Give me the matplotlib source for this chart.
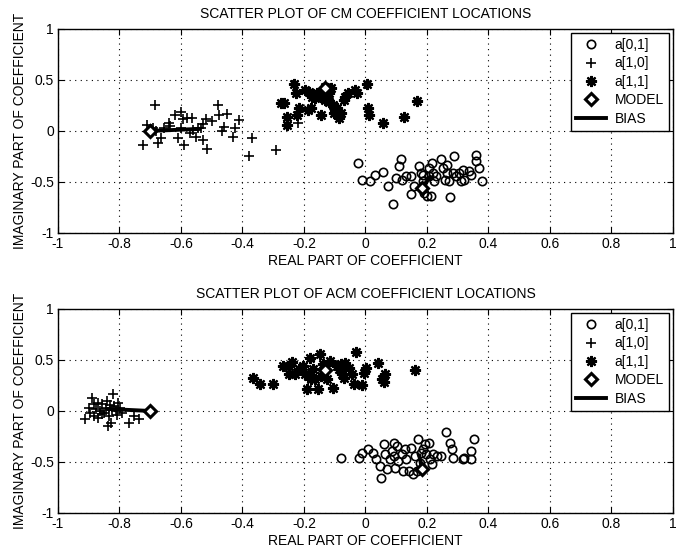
import matplotlib.pyplot as plt
import numpy as np

plt.rcParams['font.family'] = ['Liberation Sans', 'DejaVu Sans']

# ---- CM panel (top) ----
cm_a01_re = [-0.025, -0.012, 0.015, 0.032, 0.058, 0.074, 0.091, 0.100, 0.110, 0.117, 0.118, 0.133,
             0.147, 0.149, 0.157, 0.173, 0.180, 0.186, 0.190, 0.199, 0.206, 0.208, 0.213, 0.215,
             0.219, 0.223, 0.246, 0.252, 0.259, 0.266, 0.266, 0.272, 0.276, 0.285, 0.289, 0.295,
             0.305, 0.318, 0.322, 0.338, 0.344, 0.358, 0.361, 0.369, 0.378, 0.312, 0.186, 0.229]
cm_a01_im = [-0.315, -0.477, -0.494, -0.429, -0.406, -0.542, -0.721, -0.461, -0.347, -0.276, -0.477, -0.445,
             -0.445, -0.623, -0.542, -0.347, -0.412, -0.494, -0.607, -0.640, -0.364, -0.445, -0.640, -0.315,
             -0.412, -0.494, -0.276, -0.364, -0.477, -0.412, -0.331, -0.494, -0.649, -0.412, -0.250, -0.445,
             -0.412, -0.380, -0.477, -0.396, -0.429, -0.234, -0.299, -0.364, -0.494, -0.494, -0.429, -0.438]

cm_a10_re = [-0.685, -0.725, -0.71, -0.675, -0.665, -0.655, -0.64, -0.62, -0.61, -0.595, -0.59, -0.58,
             -0.57, -0.56, -0.55, -0.535, -0.53, -0.52, -0.53, -0.515, -0.48, -0.475, -0.45, -0.46,
             -0.465, -0.43, -0.425, -0.41, -0.37, -0.38, -0.29, -0.22, -0.60, -0.635, -0.565, -0.68,
             -0.69, -0.50, -0.545, -0.60]
cm_a10_im = [0.25, -0.14, 0.06, -0.12, -0.07, 0.03, 0.08, 0.16, -0.07, 0.12, -0.14, 0.13,
             -0.02, 0.01, -0.06, 0.03, 0.07, 0.12, -0.09, -0.18, 0.25, 0.16, 0.17, 0.04,
             0.0, -0.06, 0.03, 0.11, -0.07, -0.25, -0.19, 0.08, 0.19, 0.05, 0.13, 0.0,
             0.03, 0.10, 0.03, 0.03]

cm_a11_re = [-0.232, -0.226, -0.276, -0.266, -0.256, -0.256, -0.223, -0.216, -0.197, -0.186, -0.177, -0.173,
             -0.157, -0.144, -0.131, -0.131, -0.118, -0.107, -0.102, -0.091, -0.085, -0.071, -0.065, -0.058,
             -0.034, -0.028, 0.005, 0.008, 0.012, 0.058, 0.124, 0.166, -0.164, -0.144, -0.118, -0.098,
             -0.078, -0.184, -0.111]
cm_a11_im = [0.464, 0.373, 0.269, 0.269, 0.140, 0.058, 0.156, 0.221, 0.400, 0.205, 0.221, 0.334,
             0.367, 0.156, 0.432, 0.302, 0.367, 0.253, 0.172, 0.221, 0.123, 0.302, 0.334, 0.367,
             0.406, 0.367, 0.464, 0.221, 0.156, 0.081, 0.133, 0.295, 0.318, 0.334, 0.286, 0.205,
             0.172, 0.383, 0.416]

cm_model_re = [0.184, -0.70, -0.13]
cm_model_im = [-0.558, 0.0, 0.42]
cm_mean_re = [0.21, -0.54, -0.11]
cm_mean_im = [-0.45, 0.02, 0.31]

# ---- ACM panel (bottom) ----
acm_a01_re = [-0.078, -0.022, -0.012, 0.008, 0.025, 0.034, 0.048, 0.052, 0.061, 0.065, 0.070, 0.081,
              0.087, 0.094, 0.096, 0.104, 0.107, 0.118, 0.123, 0.133, 0.140, 0.147, 0.153, 0.160,
              0.166, 0.170, 0.176, 0.180, 0.193, 0.197, 0.206, 0.210, 0.215, 0.219, 0.232, 0.246,
              0.262, 0.276, 0.281, 0.285, 0.316, 0.321, 0.342, 0.342, 0.352, 0.127, 0.186, 0.094]
acm_a01_im = [-0.458, -0.458, -0.408, -0.369, -0.408, -0.474, -0.539, -0.660, -0.327, -0.425, -0.572, -0.474,
              -0.392, -0.310, -0.556, -0.343, -0.490, -0.425, -0.588, -0.474, -0.588, -0.359, -0.621, -0.441,
              -0.588, -0.271, -0.507, -0.408, -0.327, -0.425, -0.310, -0.474, -0.523, -0.425, -0.441, -0.441,
              -0.206, -0.310, -0.376, -0.458, -0.474, -0.458, -0.392, -0.474, -0.278, -0.376, -0.376, -0.441]

acm_a10_re = [-0.913, -0.900, -0.890, -0.884, -0.877, -0.871, -0.864, -0.857, -0.851, -0.844, -0.838, -0.834,
              -0.828, -0.820, -0.818, -0.811, -0.805, -0.798, -0.791, -0.768, -0.752, -0.736, -0.884, -0.857,
              -0.825, -0.842, -0.871, -0.897, -0.807, -0.831]
acm_a10_im = [-0.075, 0.033, 0.131, -0.049, 0.016, 0.082, 0.0, 0.065, -0.016, 0.033, -0.147, -0.049,
              -0.114, 0.163, 0.049, 0.0, 0.082, 0.033, -0.016, -0.114, -0.049, -0.082, 0.065, -0.033,
              0.010, 0.098, -0.065, -0.016, -0.042, 0.056]

acm_a11_re = [-0.365, -0.342, -0.302, -0.269, -0.250, -0.239, -0.230, -0.217, -0.203, -0.190, -0.186, -0.180,
              -0.170, -0.164, -0.155, -0.147, -0.137, -0.131, -0.124, -0.115, -0.107, -0.094, -0.085, -0.077,
              -0.071, -0.065, -0.054, -0.045, -0.036, -0.032, -0.012, -0.005, 0.001, 0.041, 0.054, 0.065,
              0.061, 0.162, -0.197, -0.177, -0.144, -0.078, -0.250]
acm_a11_im = [0.327, 0.261, 0.261, 0.441, 0.441, 0.480, 0.359, 0.408, 0.441, 0.212, 0.343, 0.523,
              0.408, 0.310, 0.212, 0.556, 0.458, 0.408, 0.310, 0.490, 0.229, 0.441, 0.408, 0.359,
              0.327, 0.474, 0.425, 0.359, 0.261, 0.578, 0.252, 0.376, 0.425, 0.474, 0.310, 0.359,
              0.284, 0.402, 0.359, 0.310, 0.343, 0.457, 0.359]

acm_model_re = [0.184, -0.70, -0.13]
acm_model_im = [-0.572, 0.0, 0.40]
acm_mean_re = [0.175, -0.84, -0.12]
acm_mean_im = [-0.44, 0.02, 0.39]

legend_labels = ['a[0,1]', 'a[1,0]', 'a[1,1]', 'MODEL', 'BIAS']
titles = ['SCATTER PLOT OF CM COEFFICIENT LOCATIONS', 'SCATTER PLOT OF ACM COEFFICIENT LOCATIONS']

fig = plt.figure(figsize=(6.79, 5.52), dpi=100)
ax1 = fig.add_axes([0.0854, 0.578, 0.9057, 0.3696])
ax2 = fig.add_axes([0.0854, 0.0707, 0.9057, 0.3696])

asterisk = (8, 2, 0)

panels = [
    (ax1, cm_a01_re, cm_a01_im, cm_a10_re, cm_a10_im, cm_a11_re, cm_a11_im,
     cm_model_re, cm_model_im, cm_mean_re, cm_mean_im, titles[0]),
    (ax2, acm_a01_re, acm_a01_im, acm_a10_re, acm_a10_im, acm_a11_re, acm_a11_im,
     acm_model_re, acm_model_im, acm_mean_re, acm_mean_im, titles[1]),
]

for (ax, o_re, o_im, p_re, p_im, s_re, s_im, m_re, m_im, b_re, b_im, ttl) in panels:
    h1, = ax.plot(o_re, o_im, 'o', ms=6, mfc='none', mec='k', mew=1.2, ls='none')
    h2, = ax.plot(p_re, p_im, '+', ms=7.5, mec='k', mew=1.2, ls='none')
    h3, = ax.plot(s_re, s_im, marker=asterisk, ms=8, mec='k', mew=1.6, ls='none')
    # bias lines from model to the cluster mean
    for k in range(3):
        h5, = ax.plot([m_re[k], b_re[k]], [m_im[k], b_im[k]], '-', color='k', lw=2.8)
    h4, = ax.plot(m_re, m_im, 'D', ms=6, mfc='white', mec='k', mew=2.2, ls='none')

    ax.set_xlim(-1, 1)
    ax.set_ylim(-1, 1)
    ax.set_xticks(np.arange(-1, 1.01, 0.2))
    ax.set_xticklabels(['-1', '-0.8', '-0.6', '-0.4', '-0.2', '0', '0.2', '0.4', '0.6', '0.8', '1'])
    ax.set_yticks([-1, -0.5, 0, 0.5, 1])
    ax.set_yticklabels(['-1', '-0.5', '0', '0.5', '1'])
    ax.tick_params(direction='in', length=4, labelsize=10, top=True, right=True, pad=3)
    ax.grid(True, color='k', linestyle=(0, (1, 4)), linewidth=0.8)
    for sp in ax.spines.values():
        sp.set_linewidth(1.0)
    ax.set_title(ttl, fontsize=10, pad=8)
    ax.set_xlabel('REAL PART OF COEFFICIENT', fontsize=10, labelpad=2)
    ax.set_ylabel('IMAGINARY PART OF COEFFICIENT', fontsize=10, labelpad=2)
    leg = ax.legend([h1, h2, h3, h4, h5], legend_labels, loc='upper right', fontsize=10,
                    fancybox=False, framealpha=1, edgecolor='k', borderaxespad=0.3,
                    handlelength=2.2, labelspacing=0.32, borderpad=0.35, handletextpad=0.6)
    leg.get_frame().set_linewidth(1.0)

fig.savefig('out.png', dpi=100)
